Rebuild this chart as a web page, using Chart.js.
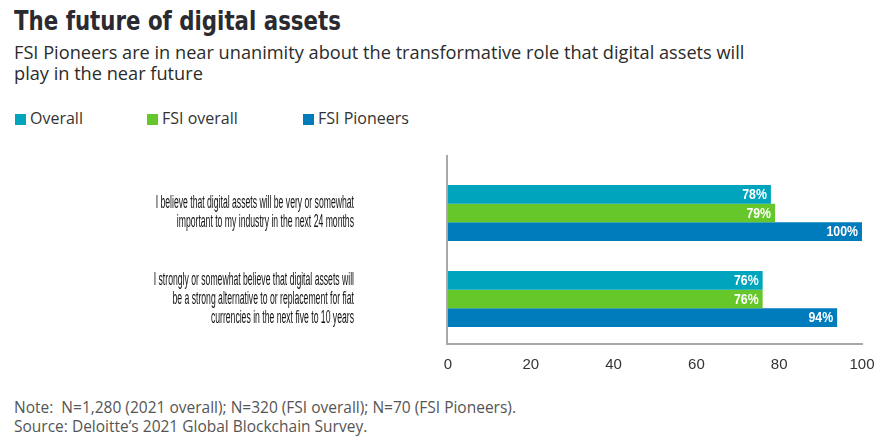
<!DOCTYPE html>
<html>
<head>
<meta charset="utf-8">
<script src="https://cdn.jsdelivr.net/npm/chart.js@4"></script>
<style>
  body { margin: 0; width: 882px; height: 444px; background: #fff; position: relative; overflow: hidden; font-family: 'Open Sans', sans-serif; color: #2b2b2b; }
  #title { position: absolute; left: 14px; top: 5px; font-family: 'DejaVu Sans', sans-serif; font-weight: bold; font-size: 27px; color: #2a2a30; transform: scaleX(0.79); transform-origin: left top; white-space: nowrap; }
  #subtitle { position: absolute; left: 14px; top: 42px; font-size: 18.2px; line-height: 21px; color: #2b2b2b; width: 755px; }
  #legend { position: absolute; left: 15px; top: 107px; font-size: 16px; color: #333; }
  .item { position: absolute; top: 0; white-space: nowrap; }
  .sw { display: inline-block; width: 11px; height: 11px; margin-right: 4px; vertical-align: -1px; }
  #note { position: absolute; left: 14px; top: 398px; font-size: 15.5px; line-height: 19px; color: #555; white-space: nowrap; }
  #wrap { position: absolute; left: 0; top: 140px; width: 882px; height: 240px; }
</style>
</head>
<body>
<div id="title">The future of digital assets</div>
<div id="subtitle">FSI Pioneers are in near unanimity about the transformative role that digital assets will<br>play in the near future</div>
<div id="legend"></div>
<div id="wrap"><canvas id="chart"></canvas></div>
<div id="note">Note:&nbsp; N=1,280 (2021 overall); N=320 (FSI overall); N=70 (FSI Pioneers).<br>Source: Deloitte’s 2021 Global Blockchain Survey.</div>
<script>
// Chart data
const categories = [
    ['I believe that digital assets will be very or somewhat', 'important to my industry in the next 24 months'],
    ['I strongly or somewhat believe that digital assets will', 'be a strong alternative to or replacement for fiat', 'currencies in the next five to 10 years']
];
const seriesNames = ['Overall', 'FSI overall', 'FSI Pioneers'];
const overall = [78, 76];
const fsiOverall = [79, 76];
const fsiPioneers = [100, 94];
const xTicks = [0, 20, 40, 60, 80, 100];

const colors = ['#00a5bd', '#66c72a', '#007bbb'];

// HTML legend
const legendX = [0, 132, 288];
const legend = document.getElementById('legend');
seriesNames.forEach((name, i) => {
    const el = document.createElement('span');
    el.className = 'item';
    el.style.left = legendX[i] + 'px';
    el.innerHTML = `<span class="sw" style="background:${colors[i]}"></span>${name}`;
    legend.appendChild(el);
});

// Axis lines drawn a little past the chart area, like the original
const axisLines = {
    id: 'axisLines',
    afterDraw(chart) {
        const { ctx, chartArea } = chart;
        ctx.save();
        ctx.strokeStyle = '#a8a8a8';
        ctx.lineWidth = 2;
        ctx.beginPath();
        ctx.moveTo(chartArea.left - 1, chartArea.top - 15);
        ctx.lineTo(chartArea.left - 1, chartArea.bottom + 2);
        ctx.lineTo(chartArea.right + 1, chartArea.bottom + 2);
        ctx.stroke();
        ctx.restore();
    }
};

// Condensed category labels on the left
const categoryLabels = {
    id: 'categoryLabels',
    afterDraw(chart) {
        const { ctx, chartArea } = chart;
        const yScale = chart.scales.y;
        const squeeze = 0.48;
        const lineH = 19;
        ctx.save();
        ctx.fillStyle = '#111';
        ctx.font = '18px "Liberation Sans", Arial, sans-serif';
        ctx.textAlign = 'right';
        ctx.textBaseline = 'middle';
        const right = chartArea.left - 94;
        chart.data.labels.forEach((lines, i) => {
            const cy = yScale.getPixelForValue(i);
            const top = cy - (lines.length - 1) * lineH / 2;
            lines.forEach((line, k) => {
                ctx.save();
                ctx.translate(right, top + k * lineH);
                ctx.scale(squeeze, 1);
                ctx.fillText(line, 0, 0);
                ctx.restore();
            });
        });
        ctx.restore();
    }
};

// Value labels inside the bar ends
const valueLabels = {
    id: 'valueLabels',
    afterDatasetsDraw(chart) {
        const { ctx } = chart;
        ctx.save();
        ctx.fillStyle = '#fff';
        ctx.font = 'bold 14px "Liberation Sans", Arial, sans-serif';
        ctx.textAlign = 'right';
        ctx.textBaseline = 'middle';
        chart.data.datasets.forEach((ds, i) => {
            chart.getDatasetMeta(i).data.forEach((bar, j) => {
                ctx.save();
                ctx.translate(bar.x - 4, bar.y + 1);
                ctx.scale(0.88, 1);
                ctx.fillText(ds.data[j] + '%', 0, 0);
                ctx.restore();
            });
        });
        ctx.restore();
    }
};

const datasets = [overall, fsiOverall, fsiPioneers].map((data, i) => ({
    label: seriesNames[i],
    data: data,
    backgroundColor: colors[i],
    categoryPercentage: 0.65,
    barPercentage: 1
}));

new Chart(document.getElementById('chart').getContext('2d'), {
    type: 'bar',
    data: { labels: categories, datasets: datasets },
    plugins: [axisLines, categoryLabels, valueLabels],
    options: {
        indexAxis: 'y',
        responsive: true,
        maintainAspectRatio: false,
        animation: false,
        layout: { padding: { top: 30, right: 20, left: 448, bottom: 0 } },
        plugins: { legend: { display: false }, tooltip: { enabled: false } },
        scales: {
            x: {
                min: 0,
                max: 100,
                afterBuildTicks: axis => { axis.ticks = xTicks.map(v => ({ value: v })); },
                grid: { display: false, drawTicks: false },
                border: { display: false },
                ticks: { color: '#333', font: { family: '"Liberation Sans", Arial, sans-serif', size: 15 }, padding: 14 },
                afterFit: axis => { axis.height = 38; axis.paddingLeft = 0; axis.paddingRight = 0; }
            },
            y: {
                display: false
            }
        }
    }
});
</script>
</body>
</html>
